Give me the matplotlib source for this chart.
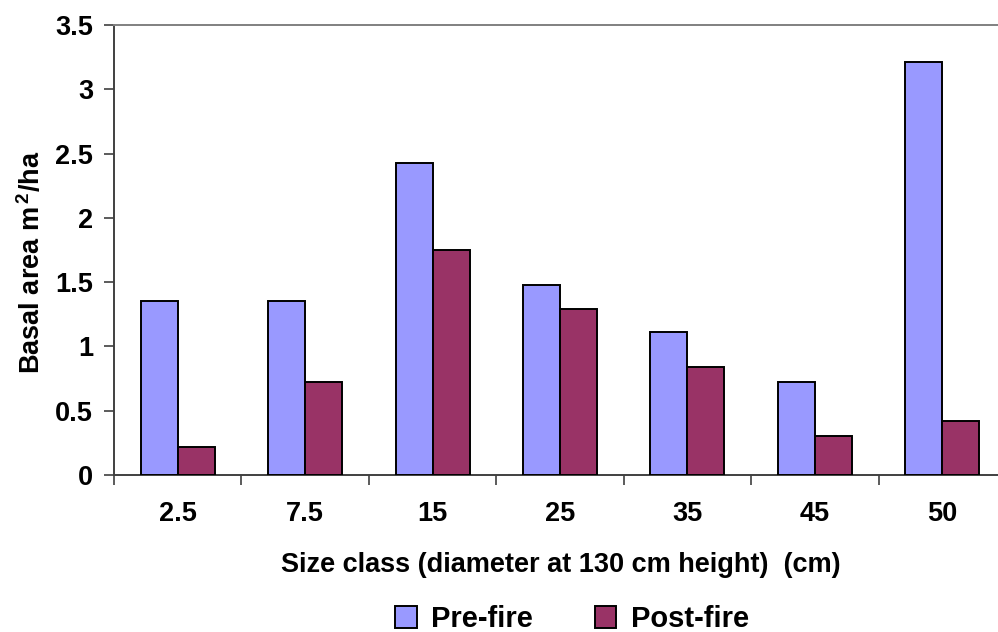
import matplotlib
matplotlib.use("Agg")
import matplotlib.pyplot as plt
import numpy as np

# Basal area by diameter size class, before and after the fire
size_classes = ["2.5", "7.5", "15", "25", "35", "45", "50"]
pre_fire = [1.35, 1.35, 2.43, 1.48, 1.11, 0.72, 3.21]
post_fire = [0.22, 0.72, 1.75, 1.29, 0.84, 0.30, 0.42]
series_names = ["Pre-fire", "Post-fire"]
y_ticks = [0, 0.5, 1, 1.5, 2, 2.5, 3, 3.5]
y_tick_labels = ["0", "0.5", "1", "1.5", "2", "2.5", "3", "3.5"]

plt.rcParams["font.family"] = ["Liberation Sans", "DejaVu Sans"]
plt.rcParams["font.weight"] = "bold"
plt.rcParams["mathtext.fontset"] = "custom"
plt.rcParams["mathtext.rm"] = "Liberation Sans:bold"
plt.rcParams["mathtext.bf"] = "Liberation Sans:bold"

fs = 19.5

fig = plt.figure(figsize=(9.98, 6.32), dpi=100)
# plot area runs slightly past the right edge of the figure
ax = fig.add_axes([114 / 998, 1 - 475 / 632, (1006 - 114) / 998, 450 / 632])

x = np.arange(len(size_classes))
w = 0.29
ax.bar(x - w / 2, pre_fire, width=w, color="#9999FF", edgecolor="black",
       linewidth=1.4, label=series_names[0], zorder=3)
ax.bar(x + w / 2, post_fire, width=w, color="#993366", edgecolor="black",
       linewidth=1.4, label=series_names[1], zorder=3)

ax.set_xlim(-0.5, len(size_classes) - 0.5)
ax.set_ylim(0, 3.5)
ax.set_yticks(y_ticks)
ax.set_yticklabels(y_tick_labels, fontsize=fs, fontweight="bold")
ax.set_xticks(x)
ax.set_xticklabels(size_classes, fontsize=fs, fontweight="bold")
ax.set_xticks(np.arange(len(size_classes) + 1) - 0.5, minor=True)
ax.tick_params(axis="x", which="major", length=0, pad=19)
ax.tick_params(axis="x", which="minor", length=7, width=1.2, color="#404040", direction="out")
ax.tick_params(axis="y", length=7, width=1.2, color="#404040", direction="out", pad=8)

for side in ["left", "bottom"]:
    ax.spines[side].set_color("#404040")
    ax.spines[side].set_linewidth(1.4)
ax.spines["top"].set_color("#808080")
ax.spines["top"].set_linewidth(1.4)
ax.spines["right"].set_visible(False)

ax.set_xlabel("Size class (diameter at 130 cm height)  (cm)", fontsize=fs,
              fontweight="bold")
ax.xaxis.set_label_coords((561 - 114) / (1006 - 114), -(552 - 475) / 450)
ax.set_ylabel(r"Basal area m$^{\,2}$/ha", fontsize=fs, fontweight="bold")
ax.yaxis.set_label_coords(-(114 - 46) / (1006 - 114), (475 - 262) / 450)

fig.legend(loc="center", bbox_to_anchor=(572 / 998, 1 - 619 / 632), ncol=2,
           frameon=False, prop={"weight": "bold", "size": 21},
           handlelength=0.75, handleheight=0.75, handletextpad=0.5,
           columnspacing=2.1, borderpad=0.1)

fig.savefig("out.png", dpi=100)
